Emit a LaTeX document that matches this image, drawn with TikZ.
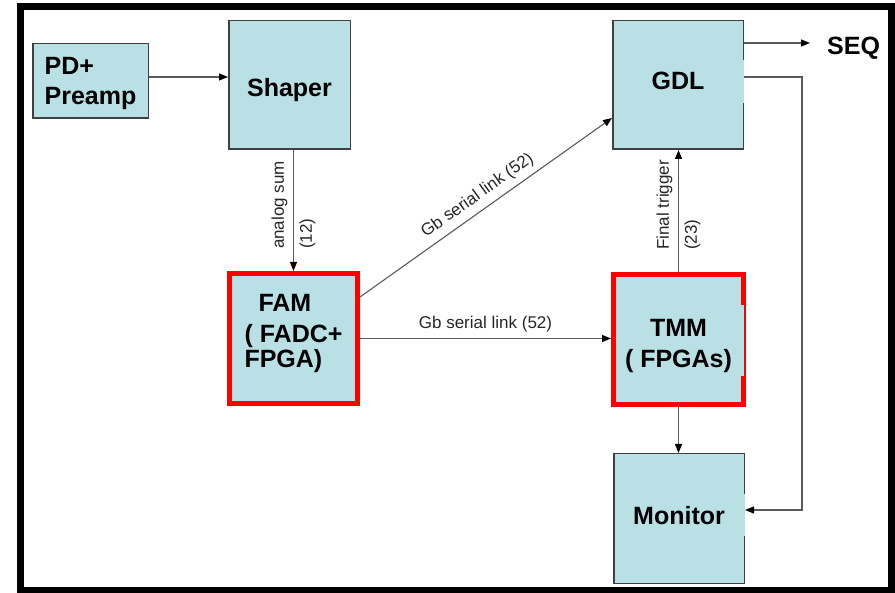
\documentclass[tikz,border=0pt]{standalone}
\usepackage{fontspec}
\setmainfont{Liberation Sans}
\usetikzlibrary{arrows.meta}
\definecolor{boxfill}{RGB}{185,224,228}
\definecolor{boxline}{RGB}{64,64,64}
\definecolor{wireline}{RGB}{90,90,90}
\begin{document}
\begin{tikzpicture}[x=1pt,y=-1pt,
  blk/.style={draw=boxline, fill=boxfill, line width=1.5pt, inner sep=0pt,
    font=\bfseries\fontsize{25}{28}\selectfont},
  redblk/.style={blk, draw=red, line width=5pt},
  arr/.style={draw=wireline, line width=1.1pt, -{Triangle[length=9pt,width=7pt,color=black]}},
  lbl/.style={font=\fontsize{17}{28}\selectfont, text=black!85, inner sep=2pt},
  gapline/.style={draw=boxfill}
]
\useasboundingbox (0,0) rectangle (895,593);
\draw[line width=7pt] (20.7,6.5) rectangle (891.5,590);

\node[blk, minimum width=115.5pt, minimum height=74.5pt, align=left,
  font=\bfseries\fontsize{25}{30}\selectfont, text height=48pt, text depth=0pt] (pd) at (90.5,81) {PD+\\Preamp};
\node[blk, minimum width=121.5pt, minimum height=128.5pt, text height=23.4pt, text depth=0pt] (shaper) at (289.5,85) {Shaper};
\node[blk, minimum width=130.5pt, minimum height=128.5pt, text height=18pt, text depth=8pt] (gdl) at (678,85) {GDL};
\node[redblk, minimum width=128pt, minimum height=130pt, align=left, text height=59pt, text depth=0pt] (fam) at (293.5,338.5) {\hspace*{14pt}FAM\\[3pt]( FADC+\\[-3pt]FPGA)};
\node[redblk, minimum width=130pt, minimum height=130pt, align=center,
  font=\bfseries\fontsize{25}{31}\selectfont, text height=57pt, text depth=0pt] (tmm) at (678.5,339.5) {TMM\\( FPGAs)};
\node[blk, minimum width=130.5pt, minimum height=129.5pt, text height=18pt, text depth=5pt] (mon) at (679,518.5) {Monitor};
\node[font=\bfseries\fontsize{25}{28}\selectfont, inner sep=0pt, anchor=west] (seq) at (827,48) {SEQ};

% small gaps in the right borders
\draw[gapline, line width=1.8pt] ([xshift=-0.8pt,yshift=25pt]gdl.east) -- ([xshift=-0.8pt,yshift=-18pt]gdl.east);
\draw[gapline, line width=1.8pt] ([xshift=-0.8pt,yshift=24.5pt]mon.east) -- ([xshift=-0.8pt,yshift=-17.5pt]mon.east);
\draw[gapline, line width=2.5pt] ([xshift=-3.75pt,yshift=34.5pt]tmm.east) -- ([xshift=-3.75pt,yshift=-36.5pt]tmm.east);

% connectors
\coordinate (a1) at ([yshift=4pt]pd.east);
\draw[arr] (a1) -- (a1 -| shaper.west);

\draw[arr] (fam.north |- shaper.south) -- (fam.north)
  node[lbl, rotate=90, align=left, pos=0.455] {analog sum\\(12)};

\coordinate (d1) at ([yshift=41.5pt]fam.east);
\coordinate (d2) at ([yshift=-33pt]gdl.west);
\draw[arr] (d1) -- (d2) node[lbl, sloped, above=4pt, midway] {Gb serial link (52)};

\draw[arr] (fam.east) -- (fam.east -| tmm.west)
  node[lbl, above=4pt, midway] {Gb serial link (52)};

\draw[arr] (tmm.north) -- (tmm.north |- gdl.south)
  node[lbl, rotate=90, align=left, pos=0.55] {Final trigger\\(23)};

\draw[arr] (tmm.south) -- (tmm.south |- mon.north);

\coordinate (s1) at ([yshift=42pt]gdl.east);
\draw[arr, shorten >=17pt] (s1) -- (s1 -| seq.west);

\coordinate (m1) at ([yshift=8pt]gdl.east);
\coordinate (m2) at ([yshift=8.5pt]mon.east);
\coordinate (mr) at (802,0);
\draw[arr] (m1) -- (m1 -| mr) |- (m2);
\end{tikzpicture}
\end{document}
